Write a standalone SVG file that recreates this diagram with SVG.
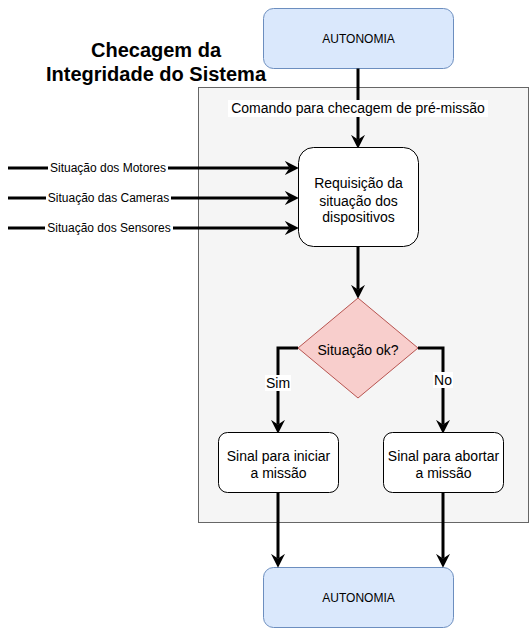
<svg xmlns="http://www.w3.org/2000/svg" width="529" height="628" viewBox="0 0 529 628">
<style>
text{font-family:"Liberation Sans",Arial,sans-serif;fill:#000;text-anchor:middle}
.n{font-size:14px}
.s{font-size:12px}
.t{font-size:20px;font-weight:bold}
.auto{fill:#dae8fc;stroke:#6c8ebf;stroke-width:1}
.box{fill:#fff;stroke:#000;stroke-width:1}
.e{fill:none;stroke:#000;stroke-width:3}
.lbl{fill:#fff}
</style>
<defs>
<marker id="ah" markerUnits="userSpaceOnUse" markerWidth="14" markerHeight="14" viewBox="0 0 12 12" refX="4" refY="6" orient="auto">
<path d="M0,0 L12,6 L0,12 L4,6 z" fill="#000"/>
</marker>
</defs>
<g id="title">
<text class="t" x="156" y="57">Checagem da</text>
<text class="t" x="156" y="81">Integridade do Sistema</text>
</g>
<g id="container">
<rect x="198.5" y="87.5" width="330" height="435" fill="#f5f5f5" stroke="#666"/>
</g>
<g id="autonomia-top">
<rect class="auto" x="263.5" y="8.5" width="190" height="60" rx="10"/>
<text class="s" x="358.5" y="43">AUTONOMIA</text>
</g>
<g id="autonomia-bottom">
<rect class="auto" x="263.5" y="567.5" width="190" height="60" rx="10"/>
<text class="s" x="358.5" y="602">AUTONOMIA</text>
</g>
<g id="connectors">
<path class="e" d="M358,68.5 V139.5" marker-end="url(#ah)"/>
<path class="e" d="M8,168 H289.5" marker-end="url(#ah)"/>
<path class="e" d="M8,198 H289.5" marker-end="url(#ah)"/>
<path class="e" d="M8,228 H289.5" marker-end="url(#ah)"/>
<path class="e" d="M358,247 V289.5" marker-end="url(#ah)"/>
<path class="e" d="M298,348 H278 V424.5" marker-end="url(#ah)"/>
<path class="e" d="M418,348 H443 V424.5" marker-end="url(#ah)"/>
<path class="e" d="M278,493 V558.5" marker-end="url(#ah)"/>
<path class="e" d="M443,493 V558.5" marker-end="url(#ah)"/>
<rect class="lbl" x="48" y="161" width="120" height="14"/>
<text class="s" x="108" y="172">Situação dos Motores</text>
<rect class="lbl" x="46" y="191" width="125" height="14"/>
<text class="s" x="108.5" y="202">Situação das Cameras</text>
<rect class="lbl" x="45" y="221" width="128" height="14"/>
<text class="s" x="109" y="232">Situação dos Sensores</text>
<rect class="lbl" x="265" y="375" width="26" height="16"/>
<text class="n" x="278" y="388">Sim</text>
<rect class="lbl" x="433" y="372" width="20" height="16"/>
<text class="n" x="443" y="385">No</text>
</g>
<g id="comando-label">
<rect class="lbl" x="228" y="100" width="260" height="17"/>
<text class="n" x="358" y="113">Comando para checagem de pré-missão</text>
</g>
<g id="requisicao">
<rect class="box" x="298.5" y="147.5" width="120" height="99" rx="15"/>
<text class="n" x="358.5" y="188">Requisição da</text>
<text class="n" x="358.5" y="205.5">situação dos</text>
<text class="n" x="358.5" y="222">dispositivos</text>
</g>
<g id="situacao-ok">
<path d="M358,298 L418,348 L358,398 L298,348 Z" fill="#f8cecc" stroke="#b85450"/>
<text class="n" x="358" y="355">Situação ok?</text>
</g>
<g id="sinal-iniciar">
<rect class="box" x="218.5" y="432.5" width="120" height="60" rx="9"/>
<text class="n" x="278.5" y="461">Sinal para iniciar</text>
<text class="n" x="278.5" y="478">a missão</text>
</g>
<g id="sinal-abortar">
<rect class="box" x="383.5" y="432.5" width="120" height="60" rx="9"/>
<text class="n" x="443.5" y="461">Sinal para abortar</text>
<text class="n" x="443.5" y="478">a missão</text>
</g>
</svg>
